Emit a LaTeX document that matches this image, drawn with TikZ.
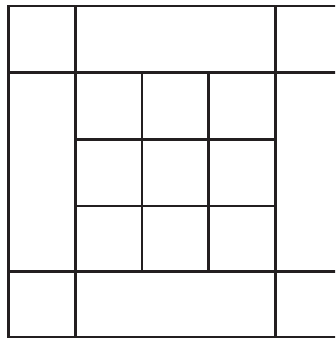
\documentclass[tikz,border=0pt]{standalone}
\definecolor{ink}{HTML}{231F20}
\begin{document}
\begin{tikzpicture}[x=1pt,y=-1pt,
  outer/.style={draw=ink,line width=2.9pt},
  inner/.style={draw=ink,line width=2.6pt}]
\useasboundingbox (0,0) rectangle (335,339);
\clip (0,0) rectangle (335,339);
\fill[white] (0,0) rectangle (335,339);
% outer frame (right edge falls outside the picture)
\draw[outer] (8.7,6) rectangle (340,337);
% band lines
\draw[outer] (8.7,72.3) -- (340,72.3);
\draw[outer] (8.7,271.3) -- (340,271.3);
\draw[outer] (75.3,6) -- (75.3,337);
\draw[outer] (275.3,6) -- (275.3,337);
% inner 3x3 grid
\draw[inner] (142,72.3) -- (142,271.3);
\draw[inner] (208.5,72.3) -- (208.5,271.3);
\draw[inner] (75.3,139.3) -- (275.3,139.3);
\draw[inner] (75.3,206) -- (275.3,206);
\end{tikzpicture}
\end{document}
